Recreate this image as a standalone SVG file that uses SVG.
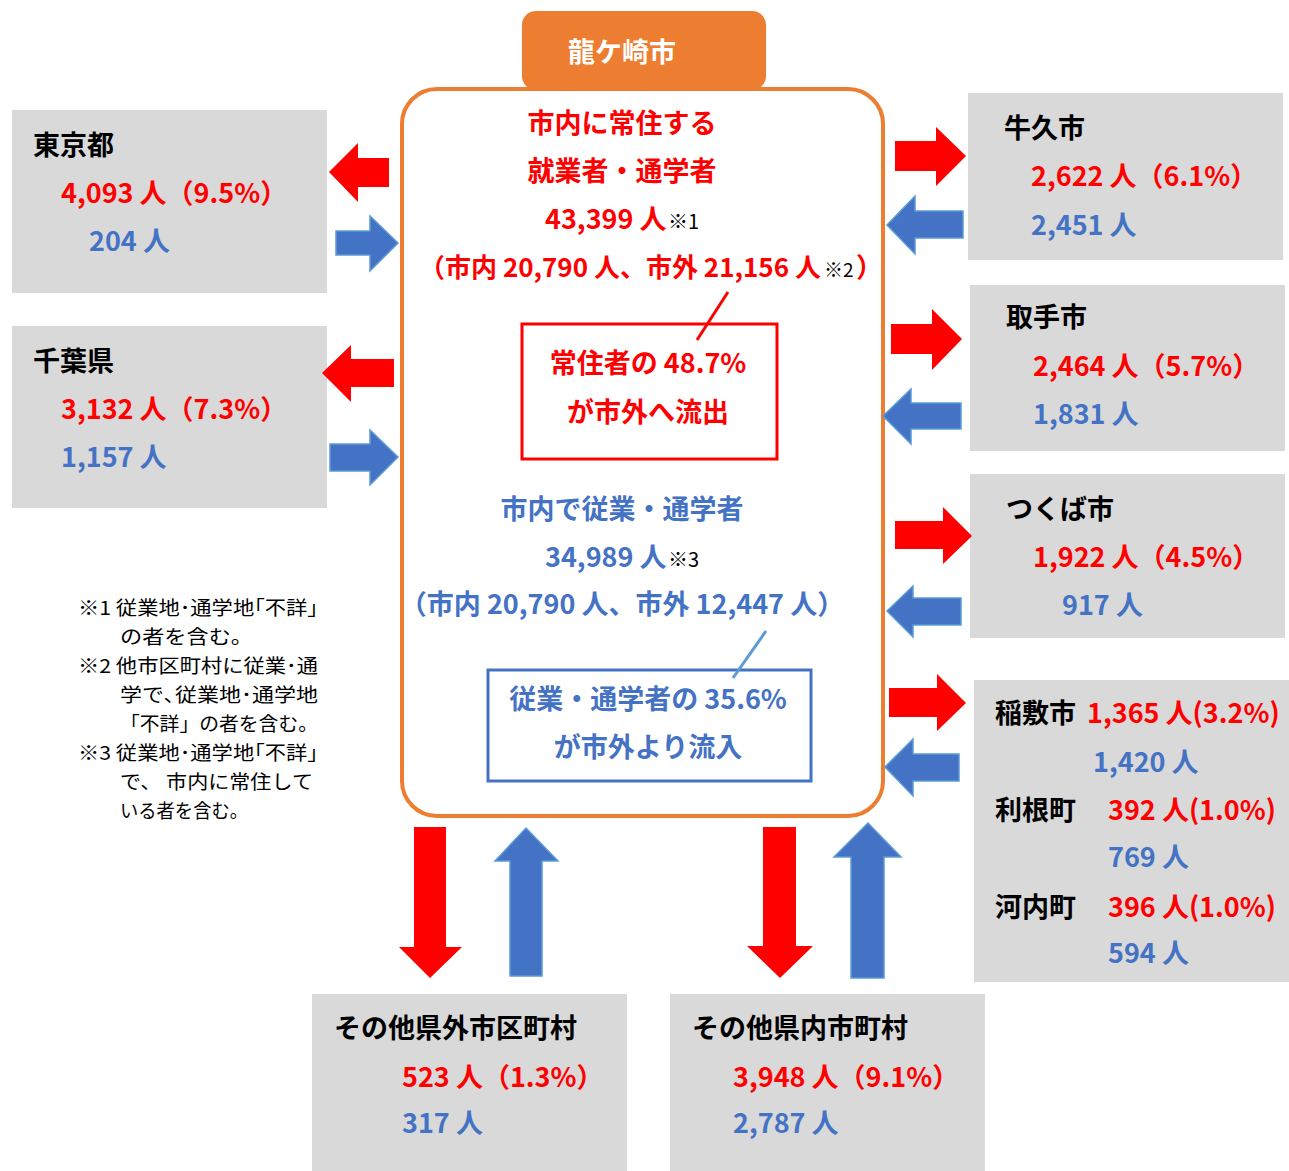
<svg xmlns="http://www.w3.org/2000/svg" width="1289" height="1171" viewBox="0 0 1289 1171">
<style>
text{font-family:"Noto Sans CJK JP","Noto Sans",sans-serif;}
.b{font-size:27px;font-weight:bold;}
.k{fill:#000;}
.r{fill:#FF0000;}
.u{fill:#4472C4;}
.w{fill:#FFFFFF;}
.c{text-anchor:middle;}
.sm{font-size:20px;font-weight:normal;fill:#000;}
.n{font-size:19px;fill:#000;}
.gbox{fill:#D9D9D9;}
.ra{fill:#FF0000;}
.ba{fill:#4472C4;stroke:#5B9BD5;stroke-width:1.5;}
</style>

<g id="main">
<rect x="402" y="89" width="481" height="727" rx="35" fill="#FFFFFF" stroke="#ED7D31" stroke-width="4"/>
<text class="b r c" x="622" y="133">市内に常住する</text>
<text class="b r c" x="622" y="181">就業者・通学者</text>
<text class="b r" x="545" y="229">43,399 人</text>
<text class="sm" x="668" y="229">※1</text>
<text class="b r" x="419" y="277" style="font-size:26px">（市内 20,790 人、市外 21,156 人</text>
<text class="sm" x="824" y="277" style="font-size:19px">※2</text>
<text class="b r" x="856" y="277">）</text>
<text class="b u c" x="622" y="519">市内で従業・通学者</text>
<text class="b u" x="545" y="567">34,989 人</text>
<text class="sm" x="668" y="567">※3</text>
<text class="b u c" x="622" y="614">（市内 20,790 人、市外 12,447 人）</text>
</g>

<g id="tab">
<rect x="522" y="11" width="244" height="79" rx="14" fill="#ED7D31"/>
<text class="b w c" x="622" y="62">龍ケ崎市</text>
</g>

<g id="outflow-note">
<rect x="522" y="324" width="255" height="135" fill="#FFFFFF" stroke="#FF0000" stroke-width="3"/>
<text class="b r c" x="648" y="373">常住者の 48.7%</text>
<text class="b r c" x="648" y="422">が市外へ流出</text>
</g>

<g id="inflow-note">
<rect x="488" y="670" width="323" height="111" fill="#FFFFFF" stroke="#4472C4" stroke-width="3"/>
<text class="b u c" x="648" y="709">従業・通学者の 35.6%</text>
<text class="b u c" x="648" y="757">が市外より流入</text>
</g>

<g id="tokyo">
<rect class="gbox" x="12" y="110" width="315" height="183"/>
<text class="b k" x="33" y="155">東京都</text>
<text class="b r" x="61" y="203">4,093 人（9.5%）</text>
<text class="b u" x="89" y="251">204 人</text>
</g>

<g id="chiba">
<rect class="gbox" x="12" y="326" width="315" height="182"/>
<text class="b k" x="33" y="371">千葉県</text>
<text class="b r" x="61" y="419">3,132 人（7.3%）</text>
<text class="b u" x="61" y="467">1,157 人</text>
</g>

<g id="ushiku">
<rect class="gbox" x="968" y="93" width="315" height="167"/>
<text class="b k" x="1004" y="138">牛久市</text>
<text class="b r" x="1031" y="186">2,622 人（6.1%）</text>
<text class="b u" x="1031" y="235">2,451 人</text>
</g>

<g id="toride">
<rect class="gbox" x="970" y="285" width="315" height="166"/>
<text class="b k" x="1006" y="327">取手市</text>
<text class="b r" x="1033" y="376">2,464 人（5.7%）</text>
<text class="b u" x="1033" y="424">1,831 人</text>
</g>

<g id="tsukuba">
<rect class="gbox" x="970" y="474" width="315" height="164"/>
<text class="b k" x="1006" y="519">つくば市</text>
<text class="b r" x="1033" y="567">1,922 人（4.5%）</text>
<text class="b u" x="1062" y="615">917 人</text>
</g>

<g id="inashiki-tone-kawachi">
<rect class="gbox" x="974" y="680" width="315" height="302"/>
<text class="b k" x="995" y="723">稲敷市</text>
<text class="b r" x="1087" y="723">1,365 人(3.2%)</text>
<text class="b u" x="1093" y="772">1,420 人</text>
<text class="b k" x="995" y="820">利根町</text>
<text class="b r" x="1108" y="820">392 人(1.0%)</text>
<text class="b u" x="1108" y="867">769 人</text>
<text class="b k" x="995" y="917">河内町</text>
<text class="b r" x="1108" y="917">396 人(1.0%)</text>
<text class="b u" x="1108" y="963">594 人</text>
</g>

<g id="other-outside">
<rect class="gbox" x="312" y="994" width="315" height="177"/>
<text class="b k" x="334" y="1038">その他県外市区町村</text>
<text class="b r" x="402" y="1087">523 人（1.3%）</text>
<text class="b u" x="402" y="1133">317 人</text>
</g>

<g id="other-inside">
<rect class="gbox" x="670" y="994" width="315" height="177"/>
<text class="b k" x="692" y="1038">その他県内市町村</text>
<text class="b r" x="733" y="1087">3,948 人（9.1%）</text>
<text class="b u" x="733" y="1133">2,787 人</text>
</g>

<g id="notes">
<text class="n" x="78" y="615" textLength="240" lengthAdjust="spacingAndGlyphs">※1 従業地･通学地｢不詳｣</text>
<text class="n" x="120" y="644" textLength="133" lengthAdjust="spacingAndGlyphs">の者を含む。</text>
<text class="n" x="78" y="673" textLength="240" lengthAdjust="spacingAndGlyphs">※2 他市区町村に従業･通</text>
<text class="n" x="120" y="702" textLength="198" lengthAdjust="spacingAndGlyphs">学で､従業地･通学地</text>
<text class="n" x="120" y="731" textLength="198" lengthAdjust="spacingAndGlyphs">「不詳」の者を含む。</text>
<text class="n" x="78" y="760" textLength="240" lengthAdjust="spacingAndGlyphs">※3 従業地･通学地｢不詳｣</text>
<text class="n" x="120" y="789" textLength="193" lengthAdjust="spacingAndGlyphs">で、 市内に常住して</text>
<text class="n" x="120" y="818" textLength="128" lengthAdjust="spacingAndGlyphs">いる者を含む。</text>
</g>

<g id="connectors">
<line x1="728" y1="292" x2="697" y2="340" stroke="#FF0000" stroke-width="3"/>
<line x1="766" y1="631" x2="733" y2="678" stroke="#5B9BD5" stroke-width="3"/>
<polygon class="ra" points="329,172 358,143 358,158 389,158 389,187 358,187 358,202"/>
<polygon class="ba" points="336,231 370,231 370,216 398,243 370,271 370,255 336,255"/>
<polygon class="ra" points="322,373 351,345 351,359 394,359 394,387 351,387 351,402"/>
<polygon class="ba" points="330,444 370,444 370,430 398,457 370,485 370,471 330,471"/>
<polygon class="ra" points="895,141 936,141 936,127 966,156 936,186 936,171 895,171"/>
<polygon class="ba" points="887,225 915,196 915,211 963,211 963,238 915,238 915,254"/>
<polygon class="ra" points="891,324 932,324 932,309 962,339 932,370 932,354 891,354"/>
<polygon class="ba" points="883,416 911,389 911,403 961,403 961,429 911,429 911,444"/>
<polygon class="ra" points="895,521 943,521 943,507 972,536 943,564 943,549 895,549"/>
<polygon class="ba" points="887,611 913,586 913,598 961,598 961,625 913,625 913,637"/>
<polygon class="ra" points="889,688 937,688 937,674 966,703 937,731 937,717 889,717"/>
<polygon class="ba" points="885,767 913,739 913,754 959,754 959,781 913,781 913,796"/>
<polygon class="ra" points="414,827 446,827 446,947 462,947 430,978 399,947 414,947"/>
<polygon class="ba" points="526,828 558,861 542,861 542,976 510,976 510,861 495,861"/>
<polygon class="ra" points="763,827 796,827 796,946 813,946 780,978 747,946 763,946"/>
<polygon class="ba" points="868,823 901,857 884,857 884,978 851,978 851,857 834,857"/>
</g>
</svg>
